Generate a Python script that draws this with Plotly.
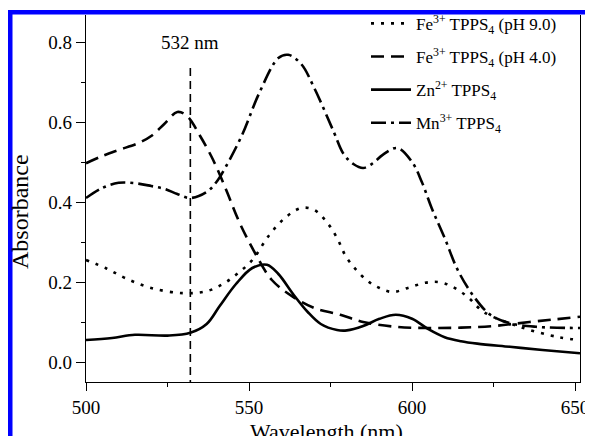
import plotly.graph_objects as go

# ---- data ----
fe9_x = [500, 506, 512, 520, 530, 537, 542, 546, 551, 556, 561, 566, 570, 574, 577, 580, 586, 590, 594, 599, 604, 608, 612, 617, 622, 633, 645, 651.5]
fe9_y = [0.255, 0.235, 0.21, 0.185, 0.172, 0.177, 0.195, 0.218, 0.255, 0.315, 0.36, 0.385, 0.38, 0.348, 0.31, 0.26, 0.205, 0.185, 0.175, 0.186, 0.198, 0.2, 0.19, 0.163, 0.125, 0.088, 0.062, 0.055]

fe4_x = [500, 505, 510, 516, 520, 524, 528, 531, 535, 539, 543, 547, 552, 557, 563.5, 570, 578, 585, 595, 605, 615, 625, 636, 651.5]
fe4_y = [0.497, 0.515, 0.53, 0.547, 0.565, 0.595, 0.625, 0.615, 0.565, 0.505, 0.43, 0.35, 0.27, 0.205, 0.163, 0.135, 0.118, 0.1, 0.088, 0.085, 0.086, 0.09, 0.1, 0.113]

zn_x = [500, 508, 515, 525, 532, 537, 541, 546, 551, 555.5, 559, 563.5, 568, 572, 577, 580, 585, 590, 595, 600, 605, 610, 615, 620, 630, 640, 651.5]
zn_y = [0.055, 0.060, 0.068, 0.066, 0.073, 0.095, 0.14, 0.195, 0.235, 0.243, 0.22, 0.17, 0.125, 0.095, 0.08, 0.079, 0.09, 0.108, 0.118, 0.108, 0.082, 0.062, 0.052, 0.046, 0.038, 0.030, 0.022]

mn_x = [500, 505, 510, 515, 520, 524, 528, 532, 537, 540, 543, 548, 553, 559, 562, 566, 570, 576, 579, 582, 585, 588, 591, 595.5, 600, 603, 606, 610, 614, 619, 624, 630, 638, 651.5]
mn_y = [0.41, 0.435, 0.448, 0.447, 0.44, 0.433, 0.42, 0.41, 0.425, 0.45, 0.49, 0.57, 0.67, 0.76, 0.768, 0.745, 0.685, 0.575, 0.52, 0.495, 0.485, 0.497, 0.518, 0.535, 0.5, 0.45, 0.385, 0.31, 0.23, 0.163, 0.118, 0.097, 0.088, 0.085]

marker_x = [532, 532]
marker_y = [0.735, -0.05]
marker_label = "532 nm"

names = [
    "Fe<sup>3+</sup> TPPS<sub>4</sub> (pH 9.0)",
    "Fe<sup>3+</sup> TPPS<sub>4</sub> (pH 4.0)",
    "Zn<sup>2+</sup> TPPS<sub>4</sub>",
    "Mn<sup>3+</sup> TPPS<sub>4</sub>",
]

x_ticks = [500, 550, 600, 650]
y_ticks = [0.0, 0.2, 0.4, 0.6, 0.8]

FONT = "Liberation Serif, Times New Roman, serif"

fig = go.Figure()
series = [
    (fe9_x, fe9_y, "3px,7px", names[0]),
    (fe4_x, fe4_y, "13px,7px", names[1]),
    (zn_x, zn_y, "solid", names[2]),
    (mn_x, mn_y, "15px,5px,3px,5px", names[3]),
]
for i, (xs, ys, dash, nm) in enumerate(series):
    fig.add_trace(go.Scatter(
        x=xs, y=ys, mode="lines", name=nm, legendgroup=f"g{i}",
        line=dict(color="black", width=2.6, dash=dash, shape="spline", smoothing=1.0),
    ))

fig.add_trace(go.Scatter(
    x=marker_x, y=marker_y, mode="lines", showlegend=False,
    line=dict(color="black", width=1.6, dash="8px,5px"),
))

fig.add_annotation(x=marker_x[0], y=0.80, text=marker_label, showarrow=False,
                   xanchor="center", yanchor="middle",
                   font=dict(family=FONT, size=19, color="black"))

# axis titles as annotations (paper coords; window px -> paper)
fig.add_annotation(x=(326 - 86) / 494, y=(382 - 431) / 367, xref="paper", yref="paper",
                   text="Wavelength (nm)", showarrow=False, xanchor="center", yanchor="middle",
                   font=dict(family=FONT, size=22, color="black"))
fig.add_annotation(x=(20 - 86) / 494, y=(382 - 212) / 367, xref="paper", yref="paper",
                   text="Absorbance", showarrow=False, textangle=-90, xanchor="center", yanchor="middle",
                   font=dict(family=FONT, size=24, color="black"))

# blue frame
blue = "#0000ff"
fig.add_shape(type="rect", xref="paper", yref="paper", layer="above",
              x0=(7 - 86) / 494, x1=(12.5 - 86) / 494, y0=(382 - 450) / 367, y1=(382 - 10) / 367,
              fillcolor=blue, line=dict(width=0))
fig.add_shape(type="rect", xref="paper", yref="paper", layer="above",
              x0=(7 - 86) / 494, x1=(600 - 86) / 494, y0=(382 - 14.5) / 367, y1=(382 - 10) / 367,
              fillcolor=blue, line=dict(width=0))
fig.add_shape(type="rect", xref="paper", yref="paper", layer="above",
              x0=(588 - 86) / 494, x1=(600 - 86) / 494, y0=(382 - 450) / 367, y1=(382 - 10) / 367,
              fillcolor=blue, line=dict(width=0))

fig.update_layout(
    width=593, height=436,
    margin=dict(l=78, r=21, t=7, b=62, autoexpand=False),
    paper_bgcolor="white", plot_bgcolor="white",
    font=dict(family=FONT, color="black"),
    showlegend=True,
    legend=dict(x=(366 - 86) / 494, y=1.025, xanchor="left", yanchor="top",
                bgcolor="rgba(0,0,0,0)", borderwidth=0, itemwidth=40,
                traceorder="grouped", tracegroupgap=8,
                font=dict(family=FONT, size=17, color="black")),
    xaxis=dict(range=[500, 651.5], tickvals=x_ticks, ticktext=[str(v) for v in x_ticks],
               showgrid=False, zeroline=False, showline=True, linecolor="black", linewidth=1.2,
               ticks="outside", ticklen=8, tickwidth=1.2, tickcolor="black", automargin=False,
               minor=dict(tickvals=[525, 575, 625], ticks="outside", ticklen=4, tickwidth=1.2, tickcolor="black"),
               tickfont=dict(family=FONT, size=19, color="black")),
    yaxis=dict(range=[-0.05, 0.8675], tickvals=y_ticks, ticktext=[f"{v:.1f}" for v in y_ticks],
               showgrid=False, zeroline=False, showline=True, linecolor="black", linewidth=1.2,
               mirror=True, automargin=False,
               ticks="outside", ticklen=9, tickwidth=1.2, tickcolor="black",
               minor=dict(tickvals=[0.1, 0.3, 0.5, 0.7], ticks="outside", ticklen=4, tickwidth=1.2, tickcolor="black"),
               tickfont=dict(family=FONT, size=19, color="black")),
)

fig.write_html("out.html")
